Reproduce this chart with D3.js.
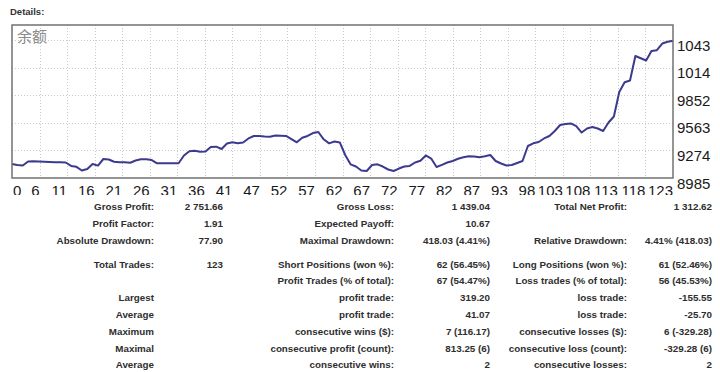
<!DOCTYPE html>
<html>
<head>
<meta charset="utf-8">
<script src="https://cdn.jsdelivr.net/npm/d3@7"></script>
<style>
    html, body { margin: 0; padding: 0; background: #fff; }
    svg { display: block; }
</style>
</head>
<body>
<div class="chart"></div>
<script>
// balance after each trade (0..123)
const balance = [
    9132, 9121, 9116, 9158, 9161, 9158, 9155, 9153, 9150, 9149,
    9147, 9111, 9102, 9064, 9079, 9132, 9115, 9184, 9179, 9155,
    9149, 9149, 9145, 9168, 9181, 9181, 9173, 9139, 9139, 9139,
    9139, 9139, 9221, 9265, 9270, 9260, 9262, 9310, 9313, 9289,
    9346, 9359, 9348, 9357, 9399, 9425, 9425, 9420, 9417, 9430,
    9427, 9425, 9393, 9359, 9407, 9425, 9456, 9467, 9390, 9348,
    9367, 9357, 9226, 9128, 9105, 9064, 9058, 9121, 9128, 9105,
    9074, 9058, 9084, 9105, 9111, 9147, 9165, 9221, 9189, 9100,
    9123, 9147, 9163, 9187, 9203, 9213, 9210, 9203, 9213, 9226,
    9163, 9137, 9116, 9121, 9142, 9163, 9320, 9348, 9362, 9399,
    9425, 9477, 9540, 9550, 9556, 9529, 9461, 9503, 9519, 9503,
    9477, 9566, 9629, 9885, 9987, 10006, 10262, 10239, 10215, 10315,
    10323, 10393, 10412, 10423
];

const xTickLabels = ['0', '6', '11', '16', '21', '26', '31', '36', '41', '47', '52', '57', '62',
    '67', '72', '77', '82', '87', '93', '98', '103', '108', '113', '118', '123'];
const yTickValues = [8985, 9274, 9563, 9852, 10141, 10430];
const yTickLabels = ['8985', '9274', '9563', '9852', '1014', '1043'];
const seriesName = '余额';

// report table: [label, value] per column
const col1 = [
    ['Gross Profit:', '2 751.66'], ['Profit Factor:', '1.91'], ['Absolute Drawdown:', '77.90'],
    ['Total Trades:', '123'], ['', ''], ['Largest', ''], ['Average', ''],
    ['Maximum', ''], ['Maximal', ''], ['Average', '']
];
const col2 = [
    ['Gross Loss:', '1 439.04'], ['Expected Payoff:', '10.67'], ['Maximal Drawdown:', '418.03 (4.41%)'],
    ['Short Positions (won %):', '62 (56.45%)'], ['Profit Trades (% of total):', '67 (54.47%)'],
    ['profit trade:', '319.20'], ['profit trade:', '41.07'], ['consecutive wins ($):', '7 (116.17)'],
    ['consecutive profit (count):', '813.25 (6)'], ['consecutive wins:', '2']
];
const col3 = [
    ['Total Net Profit:', '1 312.62'], ['', ''], ['Relative Drawdown:', '4.41% (418.03)'],
    ['Long Positions (won %):', '61 (52.46%)'], ['Loss trades (% of total):', '56 (45.53%)'],
    ['loss trade:', '-155.55'], ['loss trade:', '-25.70'], ['consecutive losses ($):', '6 (-329.28)'],
    ['consecutive loss (count):', '-329.28 (6)'], ['consecutive losses:', '2']
];

function balanceReport() {
    const width = 720,
        height = 372,
        plot = { left: 12, top: 25, right: 673, bottom: 178 },
        rowY = [206, 223, 240, 264, 280.5, 297.5, 314, 331, 348, 364],
        // right edges of label / value columns
        colX = [[154, 223], [394, 490], [627, 712]];

    const svg = d3.select('.chart')
        .append('svg')
        .attr('width', width)
        .attr('height', height)
        .style('font-family', '"Liberation Sans", Arial, sans-serif');

    svg.append('rect')
        .attr('width', width)
        .attr('height', height)
        .attr('fill', '#fff');

    svg.append('text')
        .attr('x', 10)
        .attr('y', 14.5)
        .attr('font-size', 9.5)
        .attr('font-weight', 'bold')
        .attr('fill', '#333')
        .text('Details:');

    const x = d3.scaleLinear()
        .domain([0, balance.length - 1])
        .range([plot.left, plot.right]);

    const y = d3.scaleLinear()
        .domain([8985, 8985 + (plot.bottom - plot.top) * 289 / 27.6])
        .range([plot.bottom, plot.top]);

    const xTickPos = xTickLabels.map((d, i) => i * (balance.length - 1) / (xTickLabels.length - 1));

    // dotted grid
    const grid = svg.append('g')
        .attr('stroke', '#c9c9c9')
        .attr('stroke-width', 1)
        .attr('stroke-dasharray', '1,2');

    grid.selectAll('.vgrid')
        .data(xTickPos.slice(1, -1))
        .enter().append('line')
        .attr('x1', (d) => Math.round(x(d)) + 0.5)
        .attr('x2', (d) => Math.round(x(d)) + 0.5)
        .attr('y1', plot.top)
        .attr('y2', plot.bottom);

    grid.selectAll('.hgrid')
        .data(yTickValues.slice(1))
        .enter().append('line')
        .attr('x1', plot.left)
        .attr('x2', plot.right)
        .attr('y1', (d) => Math.round(y(d)) + 0.5)
        .attr('y2', (d) => Math.round(y(d)) + 0.5);

    svg.append('text')
        .attr('x', 17)
        .attr('y', 42)
        .attr('font-size', 15)
        .attr('font-family', '"Noto Sans CJK SC", sans-serif')
        .attr('fill', '#8c8c8c')
        .text(seriesName);

    const line = d3.line()
        .x((d, i) => x(i))
        .y((d) => y(d));

    svg.append('path')
        .datum(balance)
        .attr('fill', 'none')
        .attr('stroke', '#3c3a8e')
        .attr('stroke-width', 2)
        .attr('stroke-linejoin', 'round')
        .attr('d', line);

    svg.append('rect')
        .attr('x', plot.left)
        .attr('y', plot.top)
        .attr('width', plot.right - plot.left)
        .attr('height', plot.bottom - plot.top)
        .attr('fill', 'none')
        .attr('stroke', '#727272')
        .attr('stroke-width', 1.5);

    // axis labels
    svg.append('clipPath')
        .attr('id', 'xclip')
        .append('rect')
        .attr('x', 0)
        .attr('y', plot.bottom)
        .attr('width', width)
        .attr('height', 17);

    svg.append('g')
        .attr('clip-path', 'url(#xclip)')
        .selectAll('text')
        .data(xTickLabels)
        .enter().append('text')
        .attr('x', (d, i) => i === 0 ? plot.left + 1 : x(xTickPos[i]))
        .attr('y', 196)
        .attr('text-anchor', (d, i) => i === 0 ? 'start' : 'end')
        .attr('font-size', 15)
        .attr('fill', '#1a1a1a')
        .text((d) => d);

    svg.append('g')
        .selectAll('text')
        .data(yTickValues)
        .enter().append('text')
        .attr('x', 677)
        .attr('y', (d) => y(d) + 10.5)
        .attr('font-size', 15)
        .attr('fill', '#1a1a1a')
        .text((d, i) => yTickLabels[i]);

    // stats table
    const table = svg.append('g')
        .attr('font-size', 9.8)
        .attr('font-weight', 'bold')
        .attr('fill', '#2e2e2e')
        .attr('text-anchor', 'end');

    [col1, col2, col3].forEach((col, c) => {
        col.forEach((row, r) => {
            table.append('text')
                .attr('x', colX[c][0])
                .attr('y', rowY[r] + 3.6)
                .text(row[0]);
            table.append('text')
                .attr('x', colX[c][1])
                .attr('y', rowY[r] + 3.6)
                .text(row[1]);
        });
    });
}

balanceReport();
</script>
</body>
</html>
